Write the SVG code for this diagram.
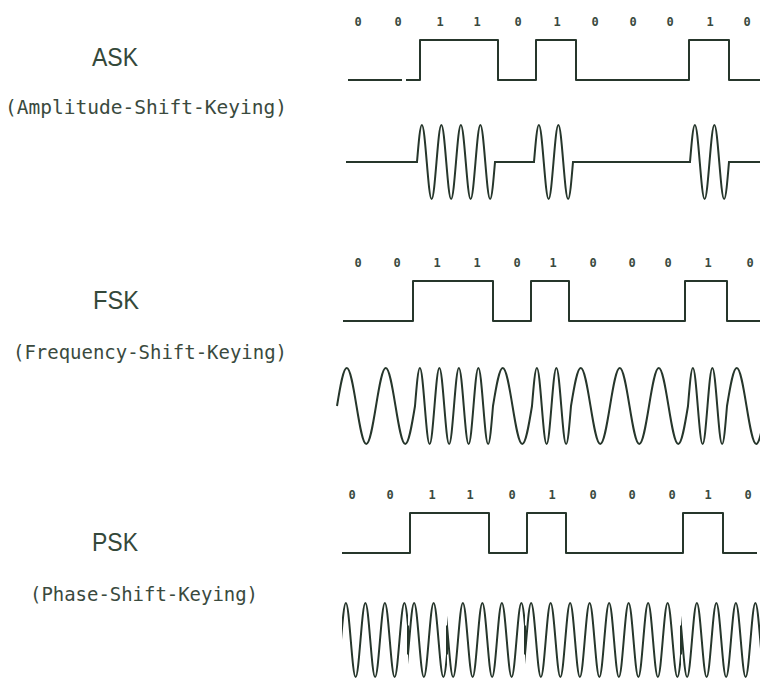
<svg xmlns="http://www.w3.org/2000/svg" width="760" height="684" viewBox="0 0 760 684">
<style>
.title{font-family:"Liberation Sans","DejaVu Sans",sans-serif;font-size:26px;fill:#34483a;text-anchor:middle}
.sub{font-family:"DejaVu Sans Mono","Liberation Mono",monospace;font-size:19px;fill:#3a4a3e}
.bit{font-family:"DejaVu Sans Mono","Liberation Mono",monospace;font-size:12px;font-weight:bold;fill:#3a4a3e;text-anchor:middle}
.sig{fill:none;stroke:#26362b;stroke-width:2;stroke-linejoin:round}
.wave{fill:none;stroke:#26362b;stroke-width:2}
</style>
<defs>
<path id="pskwave" class="wave" d="M341,640 c1.589,-18.94 3.11,-37 4.875,-37 c1.765,0 3.286,18.06 4.875,37 c1.589,18.94 3.11,37 4.875,37 c1.765,0 3.286,-18.06 4.875,-37 c1.589,-18.94 3.11,-37 4.875,-37 c1.765,0 3.286,18.06 4.875,37 c1.589,18.94 3.11,37 4.875,37 c1.765,0 3.286,-18.06 4.875,-37 c1.589,-18.94 3.11,-37 4.875,-37 c1.765,0 3.286,18.06 4.875,37 c1.589,18.94 3.11,37 4.875,37 c1.765,0 3.286,-18.06 4.875,-37 c1.589,-18.94 3.11,-37 4.875,-37 c1.765,0 3.286,18.06 4.875,37 c1.589,18.94 3.11,37 4.875,37 c1.765,0 3.286,-18.06 4.875,-37 c1.589,-18.94 3.11,-37 4.875,-37 c1.765,0 3.286,18.06 4.875,37 c1.589,18.94 3.11,37 4.875,37 c1.765,0 3.286,-18.06 4.875,-37 c1.589,-18.94 3.11,-37 4.875,-37 c1.765,0 3.286,18.06 4.875,37 c1.589,18.94 3.11,37 4.875,37 c1.765,0 3.286,-18.06 4.875,-37 c1.589,-18.94 3.11,-37 4.875,-37 c1.765,0 3.286,18.06 4.875,37 c1.589,18.94 3.11,37 4.875,37 c1.765,0 3.286,-18.06 4.875,-37 c1.589,-18.94 3.11,-37 4.875,-37 c1.765,0 3.286,18.06 4.875,37 c1.589,18.94 3.11,37 4.875,37 c1.765,0 3.286,-18.06 4.875,-37 c1.589,-18.94 3.11,-37 4.875,-37 c1.765,0 3.286,18.06 4.875,37 c1.589,18.94 3.11,37 4.875,37 c1.765,0 3.286,-18.06 4.875,-37 c1.589,-18.94 3.11,-37 4.875,-37 c1.765,0 3.286,18.06 4.875,37 c1.589,18.94 3.11,37 4.875,37 c1.765,0 3.286,-18.06 4.875,-37 c1.589,-18.94 3.11,-37 4.875,-37 c1.765,0 3.286,18.06 4.875,37 c1.589,18.94 3.11,37 4.875,37 c1.765,0 3.286,-18.06 4.875,-37 c1.589,-18.94 3.11,-37 4.875,-37 c1.765,0 3.286,18.06 4.875,37 c1.589,18.94 3.11,37 4.875,37 c1.765,0 3.286,-18.06 4.875,-37 c1.589,-18.94 3.11,-37 4.875,-37 c1.765,0 3.286,18.06 4.875,37 c1.589,18.94 3.11,37 4.875,37 c1.765,0 3.286,-18.06 4.875,-37 c1.589,-18.94 3.11,-37 4.875,-37 c1.765,0 3.286,18.06 4.875,37 c1.589,18.94 3.11,37 4.875,37 c1.765,0 3.286,-18.06 4.875,-37 c1.589,-18.94 3.11,-37 4.875,-37 c1.765,0 3.286,18.06 4.875,37 c1.589,18.94 3.11,37 4.875,37 c1.765,0 3.286,-18.06 4.875,-37 c1.589,-18.94 3.11,-37 4.875,-37 c1.765,0 3.286,18.06 4.875,37 c1.589,18.94 3.11,37 4.875,37 c1.765,0 3.286,-18.06 4.875,-37 c1.589,-18.94 3.11,-37 4.875,-37 c1.765,0 3.286,18.06 4.875,37 c1.589,18.94 3.11,37 4.875,37 c1.765,0 3.286,-18.06 4.875,-37 c1.589,-18.94 3.11,-37 4.875,-37 c1.765,0 3.286,18.06 4.875,37 c1.589,18.94 3.11,37 4.875,37 c1.765,0 3.286,-18.06 4.875,-37 c1.589,-18.94 3.11,-37 4.875,-37 c1.765,0 3.286,18.06 4.875,37 c1.589,18.94 3.11,37 4.875,37 c1.765,0 3.286,-18.06 4.875,-37 c1.589,-18.94 3.11,-37 4.875,-37 c1.765,0 3.286,18.06 4.875,37 c1.589,18.94 3.11,37 4.875,37 c1.765,0 3.286,-18.06 4.875,-37 c1.589,-18.94 3.11,-37 4.875,-37 c1.765,0 3.286,18.06 4.875,37 c1.589,18.94 3.11,37 4.875,37 c1.765,0 3.286,-18.06 4.875,-37 c1.589,-18.94 3.11,-37 4.875,-37 c1.765,0 3.286,18.06 4.875,37 c1.589,18.94 3.11,37 4.875,37 c1.765,0 3.286,-18.06 4.875,-37 c1.589,-18.94 3.11,-37 4.875,-37 c1.765,0 3.286,18.06 4.875,37 c1.589,18.94 3.11,37 4.875,37 c1.765,0 3.286,-18.06 4.875,-37 c1.589,-18.94 3.11,-37 4.875,-37 c1.765,0 3.286,18.06 4.875,37 c1.589,18.94 3.11,37 4.875,37 c1.765,0 3.286,-18.06 4.875,-37"/>
<clipPath id="clipA"><rect x="342" y="590" width="66" height="100"/><rect x="447" y="590" width="78" height="100"/><rect x="681" y="590" width="90" height="100"/></clipPath>
<clipPath id="clipB"><rect x="408" y="590" width="39" height="100"/><rect x="525" y="590" width="156" height="100"/></clipPath>
</defs>
<rect width="760" height="684" fill="#ffffff"/>

<g id="ask">
<text class="title" x="115" y="66" textLength="46" lengthAdjust="spacingAndGlyphs">ASK</text>
<text class="sub" x="5" y="114" textLength="282" lengthAdjust="spacingAndGlyphs">(Amplitude-Shift-Keying)</text>
<g id="ask-bits">
<text class="bit" x="358" y="26">0</text><text class="bit" x="398" y="26">0</text><text class="bit" x="440" y="26">1</text><text class="bit" x="477" y="26">1</text><text class="bit" x="518" y="26">0</text><text class="bit" x="557" y="26">1</text><text class="bit" x="595" y="26">0</text><text class="bit" x="633" y="26">0</text><text class="bit" x="670" y="26">0</text><text class="bit" x="710" y="26">1</text><text class="bit" x="747" y="26">0</text>
</g>
<path id="ask-data" class="sig" d="M348,80 H402 M406,80 H420 V40 H498 V80 H536 V40 H576 V80 H689 V40 H729 V80 H760"/>
<path id="ask-signal" class="wave" d="M346,162 H417 c1.589,-18.94 3.11,-37 4.875,-37 c1.765,0 3.286,18.06 4.875,37 c1.589,18.94 3.11,37 4.875,37 c1.765,0 3.286,-18.06 4.875,-37 c1.589,-18.94 3.11,-37 4.875,-37 c1.765,0 3.286,18.06 4.875,37 c1.589,18.94 3.11,37 4.875,37 c1.765,0 3.286,-18.06 4.875,-37 c1.589,-18.94 3.11,-37 4.875,-37 c1.765,0 3.286,18.06 4.875,37 c1.589,18.94 3.11,37 4.875,37 c1.765,0 3.286,-18.06 4.875,-37 c1.589,-18.94 3.11,-37 4.875,-37 c1.765,0 3.286,18.06 4.875,37 c1.589,18.94 3.11,37 4.875,37 c1.765,0 3.286,-18.06 4.875,-37 H534 c1.589,-18.94 3.11,-37 4.875,-37 c1.765,0 3.286,18.06 4.875,37 c1.589,18.94 3.11,37 4.875,37 c1.765,0 3.286,-18.06 4.875,-37 c1.589,-18.94 3.11,-37 4.875,-37 c1.765,0 3.286,18.06 4.875,37 c1.589,18.94 3.11,37 4.875,37 c1.765,0 3.286,-18.06 4.875,-37 H690 c1.589,-18.94 3.11,-37 4.875,-37 c1.765,0 3.286,18.06 4.875,37 c1.589,18.94 3.11,37 4.875,37 c1.765,0 3.286,-18.06 4.875,-37 c1.589,-18.94 3.11,-37 4.875,-37 c1.765,0 3.286,18.06 4.875,37 c1.589,18.94 3.11,37 4.875,37 c1.765,0 3.286,-18.06 4.875,-37 H760"/>
</g>

<g id="fsk">
<text class="title" x="116" y="309" textLength="46" lengthAdjust="spacingAndGlyphs">FSK</text>
<text class="sub" x="13" y="359" textLength="274" lengthAdjust="spacingAndGlyphs">(Frequency-Shift-Keying)</text>
<g id="fsk-bits">
<text class="bit" x="358" y="267">0</text><text class="bit" x="397" y="267">0</text><text class="bit" x="437" y="267">1</text><text class="bit" x="477" y="267">1</text><text class="bit" x="517" y="267">0</text><text class="bit" x="553" y="267">1</text><text class="bit" x="593" y="267">0</text><text class="bit" x="632" y="267">0</text><text class="bit" x="668" y="267">0</text><text class="bit" x="708" y="267">1</text><text class="bit" x="750" y="267">0</text>
</g>
<path id="fsk-data" class="sig" d="M343,321 H413 V281 H493 V321 H531 V281 H569 V321 H685 V281 H727 V321 H760"/>
<path id="fsk-signal" class="wave" d="M337,406 c3.179,-19.46 6.221,-38 9.75,-38 c3.529,0 6.572,18.54 9.75,38 c3.179,19.46 6.221,38 9.75,38 c3.529,0 6.572,-18.54 9.75,-38 c3.179,-19.46 6.221,-38 9.75,-38 c3.529,0 6.572,18.54 9.75,38 c3.179,19.46 6.221,38 9.75,38 c3.529,0 6.572,-18.54 9.75,-38 c1.589,-19.46 3.11,-38 4.875,-38 c1.765,0 3.286,18.54 4.875,38 c1.589,19.46 3.11,38 4.875,38 c1.765,0 3.286,-18.54 4.875,-38 c1.589,-19.46 3.11,-38 4.875,-38 c1.765,0 3.286,18.54 4.875,38 c1.589,19.46 3.11,38 4.875,38 c1.765,0 3.286,-18.54 4.875,-38 c1.589,-19.46 3.11,-38 4.875,-38 c1.765,0 3.286,18.54 4.875,38 c1.589,19.46 3.11,38 4.875,38 c1.765,0 3.286,-18.54 4.875,-38 c1.589,-19.46 3.11,-38 4.875,-38 c1.765,0 3.286,18.54 4.875,38 c1.589,19.46 3.11,38 4.875,38 c1.765,0 3.286,-18.54 4.875,-38 c3.179,-19.46 6.221,-38 9.75,-38 c3.529,0 6.572,18.54 9.75,38 c3.179,19.46 6.221,38 9.75,38 c3.529,0 6.572,-18.54 9.75,-38 c1.589,-19.46 3.11,-38 4.875,-38 c1.765,0 3.286,18.54 4.875,38 c1.589,19.46 3.11,38 4.875,38 c1.765,0 3.286,-18.54 4.875,-38 c1.589,-19.46 3.11,-38 4.875,-38 c1.765,0 3.286,18.54 4.875,38 c1.589,19.46 3.11,38 4.875,38 c1.765,0 3.286,-18.54 4.875,-38 c3.179,-19.46 6.221,-38 9.75,-38 c3.529,0 6.572,18.54 9.75,38 c3.179,19.46 6.221,38 9.75,38 c3.529,0 6.572,-18.54 9.75,-38 c3.179,-19.46 6.221,-38 9.75,-38 c3.529,0 6.572,18.54 9.75,38 c3.179,19.46 6.221,38 9.75,38 c3.529,0 6.572,-18.54 9.75,-38 c3.179,-19.46 6.221,-38 9.75,-38 c3.529,0 6.572,18.54 9.75,38 c3.179,19.46 6.221,38 9.75,38 c3.529,0 6.572,-18.54 9.75,-38 c1.589,-19.46 3.11,-38 4.875,-38 c1.765,0 3.286,18.54 4.875,38 c1.589,19.46 3.11,38 4.875,38 c1.765,0 3.286,-18.54 4.875,-38 c1.589,-19.46 3.11,-38 4.875,-38 c1.765,0 3.286,18.54 4.875,38 c1.589,19.46 3.11,38 4.875,38 c1.765,0 3.286,-18.54 4.875,-38 c3.179,-19.46 6.221,-38 9.75,-38 c3.529,0 6.572,18.54 9.75,38 c3.179,19.46 6.221,38 9.75,38 c3.529,0 6.572,-18.54 9.75,-38"/>
</g>

<g id="psk">
<text class="title" x="115" y="551" textLength="46" lengthAdjust="spacingAndGlyphs">PSK</text>
<text class="sub" x="30" y="601" textLength="228" lengthAdjust="spacingAndGlyphs">(Phase-Shift-Keying)</text>
<g id="psk-bits">
<text class="bit" x="352" y="499">0</text><text class="bit" x="390" y="499">0</text><text class="bit" x="432" y="499">1</text><text class="bit" x="470" y="499">1</text><text class="bit" x="512" y="499">0</text><text class="bit" x="552" y="499">1</text><text class="bit" x="593" y="499">0</text><text class="bit" x="632" y="499">0</text><text class="bit" x="672" y="499">0</text><text class="bit" x="708" y="499">1</text><text class="bit" x="748" y="499">0</text>
</g>
<path id="psk-data" class="sig" d="M342,553 H410 V513 H489 V553 H527 V513 H566 V553 H683 V513 H723 V553 H757"/>
<g id="psk-signal">
<g clip-path="url(#clipA)"><use href="#pskwave"/></g>
<g clip-path="url(#clipB)"><use href="#pskwave" transform="matrix(1 0 0 -1 0 1280)"/></g>
<path class="wave" d="M408,625.5 V654.5 M447,625.5 V654.5 M525,625.5 V654.5 M681,625.5 V654.5"/>
</g>
</g>
</svg>
